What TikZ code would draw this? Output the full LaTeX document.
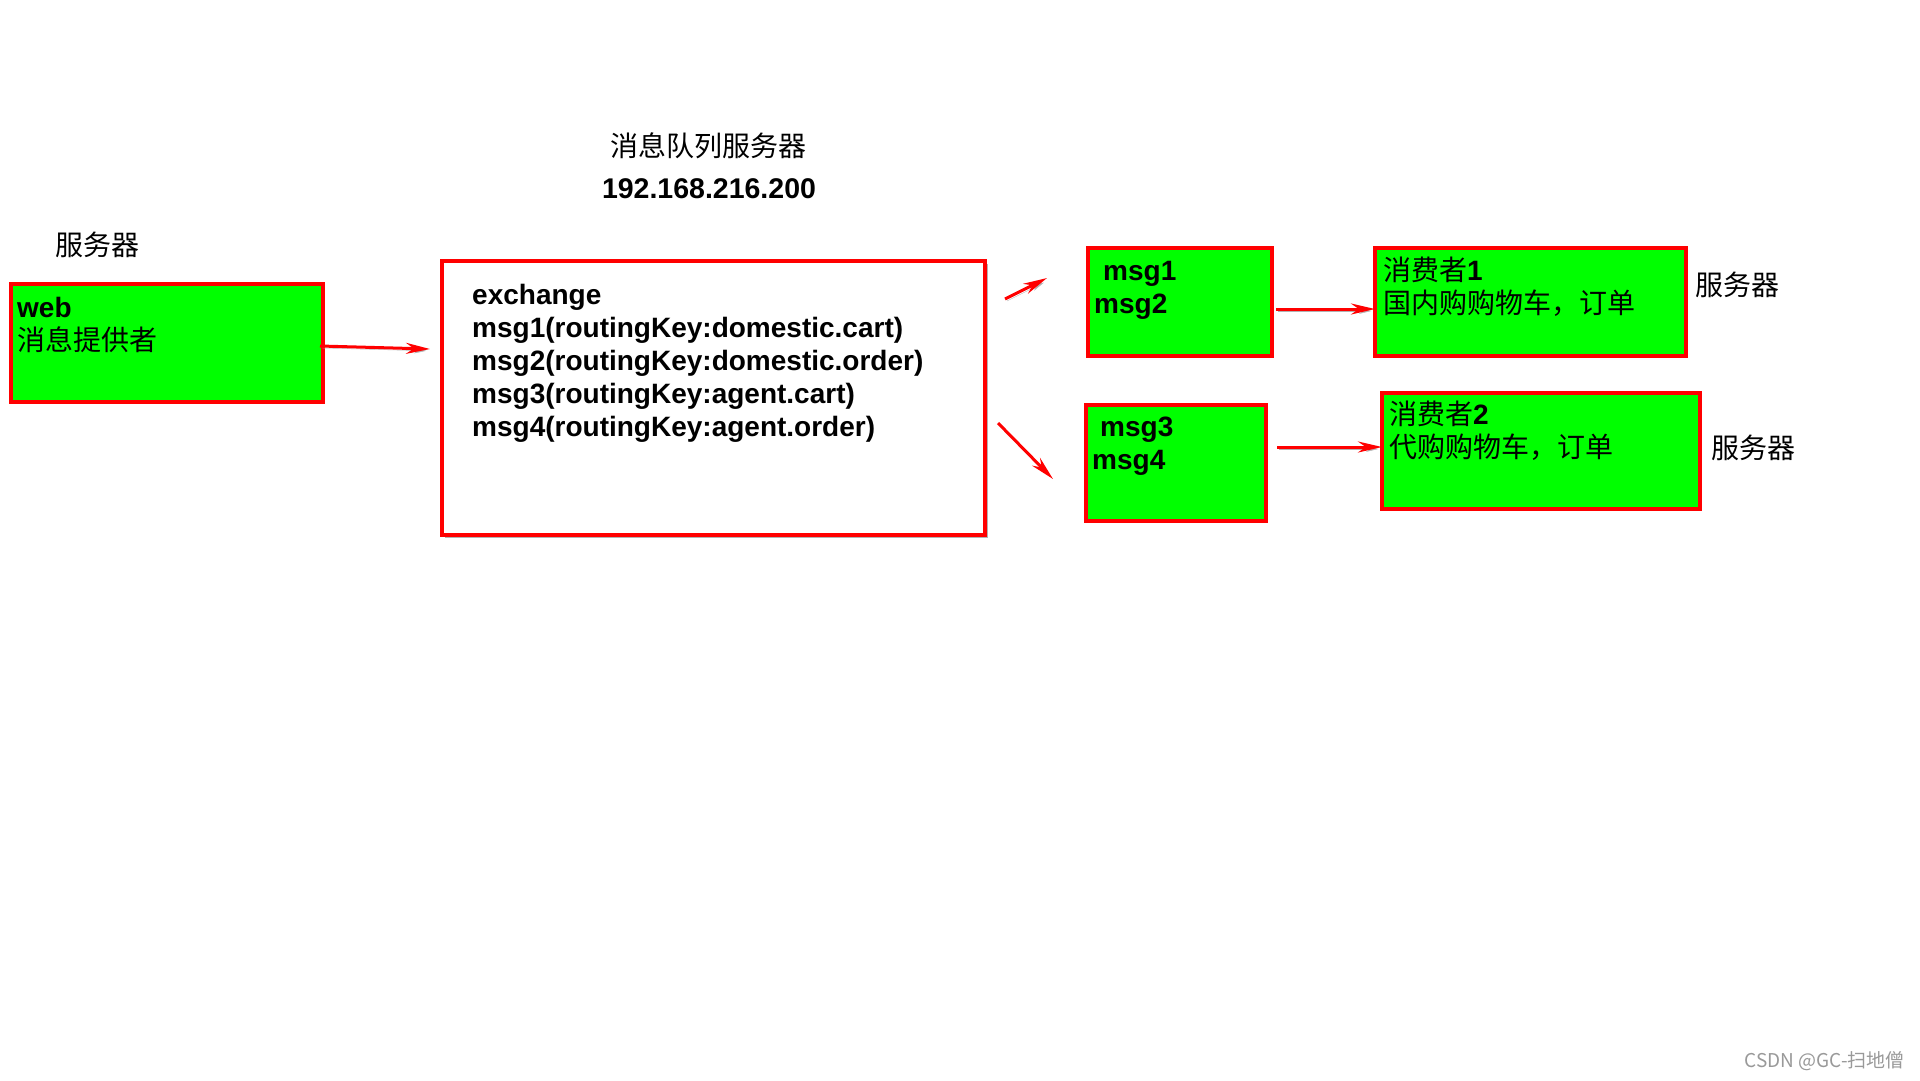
\documentclass[tikz,border=0pt]{standalone}
\usepackage{fontspec}
\setmainfont{Liberation Sans}
\newfontfamily\cjk{Noto Sans CJK SC}
\usetikzlibrary{arrows.meta,shadows}
\newcommand\zh[1]{{\cjk\mdseries\fontsize{28}{33}\selectfont #1}}
\begin{document}
\begin{tikzpicture}[x=1pt,y=-1pt,
  box/.style={draw=red, line width=3.2pt, fill=green, anchor=north west, inner sep=0pt, outer sep=0pt},
  txt/.style={anchor=base west, align=left, inner sep=0pt, font=\fontsize{28}{33}\selectfont\bfseries},
  lbl/.style={anchor=base, inner sep=0pt},
  arr/.style={draw=red, line width=3pt, -{Stealth[length=24pt,width=11pt]},
    preaction={draw=black!30, transform canvas={shift={(2pt,-2pt)}}}}
]
\fill[white] (0,0) rectangle (1920,1080);
\useasboundingbox (0,0) rectangle (1920,1080);

% titles and labels
\node[lbl] (title) at (708,156) {\zh{消息队列服务器}};
\node[lbl, font=\fontsize{28.5}{33}\selectfont\bfseries] (ip) at (709,198) {192.168.216.200};
\node[lbl] (srv0) at (97,255) {\zh{服务器}};
\node[lbl] (srv1) at (1737,295) {\zh{服务器}};
\node[lbl] (srv2) at (1753,458) {\zh{服务器}};

% boxes
\node[box, minimum width=312pt, minimum height=118pt] (web) at (11,284) {};
\node[box, fill=white, minimum width=543pt, minimum height=274pt,
  drop shadow={fill=black!50, opacity=0.6, shadow xshift=3pt, shadow yshift=-3pt}] (exch) at (442,261) {};
\node[box, minimum width=184pt, minimum height=108pt] (q1) at (1088,248) {};
\node[box, minimum width=180pt, minimum height=116pt] (q2) at (1086,405) {};
\node[box, minimum width=311pt, minimum height=108pt] (c1) at (1375,248) {};
\node[box, minimum width=318pt, minimum height=116pt] (c2) at (1382,393) {};

% box texts (anchored at the baseline of their last line)
\node[txt] (webt) at (17,350) {web\\\zh{消息提供者}};
\node[txt] (excht) at (472,436) {exchange\\msg1(routingKey:domestic.cart)\\msg2(routingKey:domestic.order)\\msg3(routingKey:agent.cart)\\msg4(routingKey:agent.order)};
\node[txt] (q1t) at (1094,313) {\hspace*{9pt}msg1\\msg2};
\node[txt] (q2t) at (1092,469) {\hspace*{8pt}msg3\\msg4};
\node[txt] (c1t) at (1383,313) {\zh{消费者}1\\\zh{国内购购物车，订单}};
\node[txt] (c2t) at (1389,457) {\zh{消费者}2\\\zh{代购购物车，订单}};

% arrows
\coordinate (a1s) at (320,346);
\coordinate (a1e) at (430,349);
\coordinate (a2s) at (1005,299);
\coordinate (a2e) at (1047,278);
\coordinate (a3s) at (998,423);
\coordinate (a3e) at (1053,479);
\coordinate (a4s) at (1276,309);
\coordinate (a5s) at (1277,447);
\draw[arr] (a1s) -- (a1e);
\draw[arr] (a2s) -- (a2e);
\draw[arr] (a3s) -- (a3e);
\draw[arr] (a4s) -- (c1.west |- a4s);
\draw[arr] (a5s) -- (c2.west |- a5s);

% watermark
\node[anchor=base east, inner sep=0pt, text=black!40, font=\cjk\fontsize{19}{22}\selectfont] (wm) at (1905,1067) {CSDN @GC-扫地僧};
\end{tikzpicture}
\end{document}
